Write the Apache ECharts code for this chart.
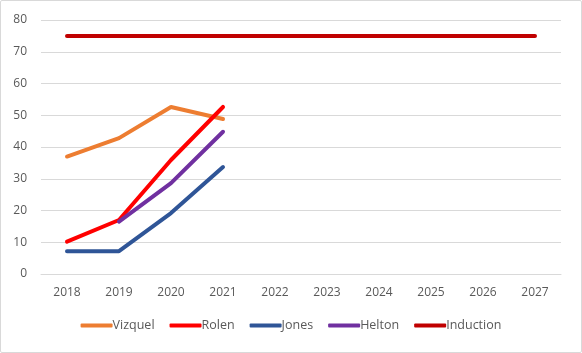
<!DOCTYPE html>
<html>
<head>
<meta charset="utf-8">
<script src="https://cdn.jsdelivr.net/npm/echarts@6/dist/echarts.min.js"></script>
<style>
    html, body { margin: 0; padding: 0; background: #fff; }
    #chart { width: 580px; height: 351px; border: 1px solid #d9d9d9; border-radius: 2px; }
</style>
</head>
<body>
<div id="chart"></div>
<script>
const years = ['2018', '2019', '2020', '2021', '2022', '2023', '2024', '2025', '2026', '2027'];
const vizquel = [37, 42.8, 52.6, 48.8, null, null, null, null, null, null];
const rolen = [10.2, 17, 35.9, 52.6, null, null, null, null, null, null];
const jones = [7.2, 7.2, 19.2, 33.7, null, null, null, null, null, null];
const helton = [null, 16.5, 28.6, 44.8, null, null, null, null, null, null];
const induction = [75, 75, 75, 75, 75, 75, 75, 75, 75, 75];

const chart = echarts.init(document.getElementById('chart'));

function line(name, data, color) {
    return {
        name: name,
        type: 'line',
        data: data,
        symbol: 'none',
        lineStyle: { width: 4, color: color, cap: 'round' },
        itemStyle: { color: color },
        animation: false
    };
}

const option = {
    textStyle: { fontFamily: 'Open Sans, sans-serif' },
    grid: {
        left: 40,
        right: 20,
        top: 19,
        bottom: 78
    },
    legend: {
        bottom: 15,
        left: 'center',
        itemWidth: 32,
        itemHeight: 4,
        itemGap: 15,
        textStyle: { color: '#595959', fontSize: 12.5, padding: [0, 0, 0, -5] },
        icon: 'roundRect',
        data: ['Vizquel', 'Rolen', 'Jones', 'Helton', 'Induction']
    },
    xAxis: {
        type: 'category',
        data: years,
        boundaryGap: true,
        axisLine: { lineStyle: { color: '#d9d9d9' } },
        axisTick: { show: false },
        axisLabel: { color: '#595959', fontSize: 12, margin: 13 }
    },
    yAxis: {
        type: 'value',
        min: 0,
        max: 80,
        interval: 10,
        axisLine: { show: false },
        axisTick: { show: false },
        splitLine: { lineStyle: { color: '#d9d9d9' } },
        axisLabel: { color: '#595959', fontSize: 12, margin: 14 }
    },
    series: [
        line('Vizquel', vizquel, '#ED7D31'),
        line('Rolen', rolen, '#FF0000'),
        line('Jones', jones, '#2F5597'),
        line('Helton', helton, '#7030A0'),
        line('Induction', induction, '#C00000')
    ]
};
chart.setOption(option);
</script>
</body>
</html>
